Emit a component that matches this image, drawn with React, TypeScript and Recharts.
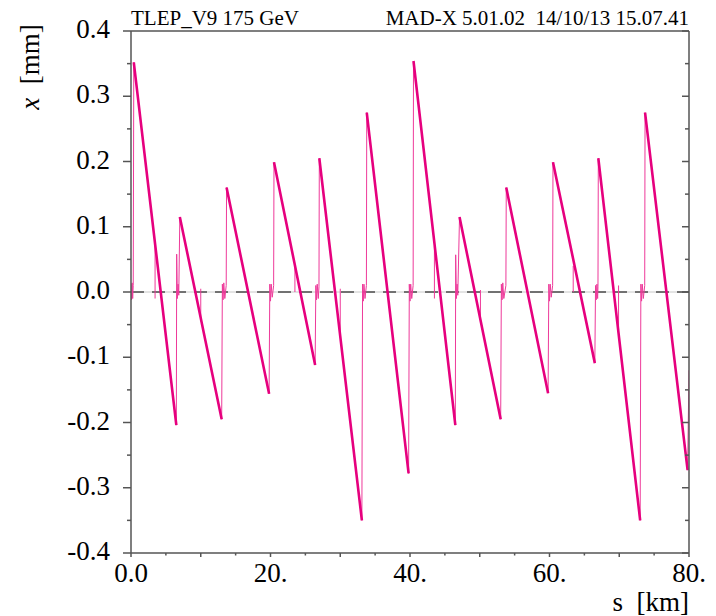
import React from "react";
import {
  LineChart,
  Line,
  XAxis,
  YAxis,
  ReferenceLine,
} from "recharts";

// closed orbit x [mm] along s [km]
const orbitS = [
  0, 0.08, 0.16, 0.24, 0.32, 0.4,
  6.5, 6.55, 6.65, 6.75, 6.85, 7.0,
  13.0, 13.1, 13.2, 13.3, 13.45, 13.65, 13.7,
  19.8, 19.9, 20.0, 20.1, 20.25, 20.45, 20.5,
  26.4, 26.5, 26.6, 26.7, 26.85, 26.95, 27.0,
  33.1, 33.2, 33.3, 33.4, 33.55, 33.75, 33.8,
  39.8, 39.9, 40.0, 40.1, 40.25, 40.45, 40.5,
  46.5, 46.55, 46.65, 46.75, 46.85, 47.1,
  53.0, 53.1, 53.2, 53.3, 53.45, 53.75, 53.8,
  59.8, 59.9, 60.0, 60.1, 60.25, 60.45, 60.5,
  66.5, 66.6, 66.7, 66.8, 66.9, 66.95, 67.0,
  73.0, 73.1, 73.2, 73.3, 73.45, 73.65, 73.7,
  79.8, 80.0,
];
const orbitX = [
  0.012, -0.012, 0.014, -0.01, 0.01, 0.352,
  -0.204, 0.058, -0.01, 0.012, -0.005, 0.115,
  -0.195, 0.012, -0.012, 0.014, -0.01, 0.01, 0.16,
  -0.156, 0.012, -0.014, 0.012, -0.008, 0.01, 0.199,
  -0.112, 0.01, -0.012, 0.012, -0.01, 0.008, 0.205,
  -0.35, 0.012, -0.014, 0.012, -0.01, 0.01, 0.275,
  -0.278, 0.012, -0.014, 0.012, -0.01, 0.01, 0.354,
  -0.204, 0.057, -0.01, 0.012, -0.005, 0.115,
  -0.195, 0.012, -0.012, 0.014, -0.01, 0.01, 0.16,
  -0.155, 0.012, -0.014, 0.012, -0.008, 0.01, 0.199,
  -0.109, 0.01, -0.012, 0.012, -0.01, 0.008, 0.205,
  -0.35, 0.012, -0.014, 0.012, -0.01, 0.01, 0.275,
  -0.273, -0.12,
];

// the long drifting ramps (drawn thicker)
const rampPeakS = [0.4, 7.0, 13.7, 20.5, 27.0, 33.8, 40.5, 47.1, 53.8, 60.5, 67.0, 73.7];
const rampPeakX = [0.352, 0.115, 0.16, 0.199, 0.205, 0.275, 0.354, 0.115, 0.16, 0.199, 0.205, 0.275];
const rampTroughS = [6.5, 13.0, 19.8, 26.4, 33.1, 39.8, 46.5, 53.0, 59.8, 66.5, 73.0, 79.8];
const rampTroughX = [-0.204, -0.195, -0.156, -0.112, -0.35, -0.278, -0.204, -0.195, -0.155, -0.109, -0.35, -0.273];

// short spikes sitting on the ramps
const spikeS = [3.45, 10.0, 23.5, 30.0, 43.5, 50.1, 63.4, 69.9];
const spikeTop = [0.072, 0.005, 0.041, 0.005, 0.07, 0.003, 0.04, 0.01];
const spikeBottom = [-0.01, -0.045, 0.0, -0.068, -0.01, -0.042, 0.0, -0.059];

const xTicks = [0, 5, 10, 15, 20, 25, 30, 35, 40, 45, 50, 55, 60, 65, 70, 75, 80];
const xTickLabels: Record<number, string> = { 0: "0.0", 20: "20.", 40: "40.", 60: "60.", 80: "80." };
const yTicks = [-0.4, -0.35, -0.3, -0.25, -0.2, -0.15, -0.1, -0.05, 0, 0.05, 0.1, 0.15, 0.2, 0.25, 0.3, 0.35, 0.4];
const yTickLabels = ["-0.4", "-0.3", "-0.2", "-0.1", "0.0", "0.1", "0.2", "0.3", "0.4"];

const titleLeft = "TLEP_V9 175 GeV";
const titleRight = "MAD-X 5.01.02  14/10/13 15.07.41";

const W = 716;
const H = 616;
const FONT = "Liberation Serif, Times New Roman, Times, serif";
const PINK = "#e6007e";
const THIN = "#ee3a9a";
const AXIS = "#555";

const orbitData = orbitS.map((s, i) => ({ s, x: orbitX[i] }));
const rampData = rampPeakS.flatMap((s, i) => [
  { s, x: rampPeakX[i] },
  { s: rampTroughS[i], x: rampTroughX[i] },
  { s: rampTroughS[i], x: null },
]);
const spikeData = spikeS.flatMap((s, i) => [
  { s, x: spikeTop[i] },
  { s, x: spikeBottom[i] },
  { s, x: null },
]);

const isMajorY = (v: number) => Math.abs(v * 10 - Math.round(v * 10)) < 1e-6;
const isMajorX = (v: number) => v % 10 === 0;

const txt = { fontFamily: FONT, whiteSpace: "pre" as const };

const LeftTick = (props: any) => {
  const { x, y, payload } = props;
  const v = payload.value;
  const major = isMajorY(v);
  const label = yTickLabels[Math.round((v + 0.4) * 10)];
  return (
    <g>
      <line x1={x} x2={x - (major ? 8 : 4)} y1={y} y2={y} stroke={AXIS} strokeWidth={1.5} />
      {major && (
        <text x={x - 21} y={y + 7} textAnchor="end" style={txt} fontSize={27} fill="#000">
          {label}
        </text>
      )}
    </g>
  );
};

const RightTick = (props: any) => {
  const { x, y, payload } = props;
  const major = isMajorY(payload.value);
  return <line x1={x} x2={x - (major ? 7 : 4)} y1={y} y2={y} stroke={AXIS} strokeWidth={1.5} />;
};

const BottomTick = (props: any) => {
  const { x, y, payload } = props;
  const v = payload.value;
  const label = xTickLabels[v];
  return (
    <g>
      <line x1={x} x2={x} y1={y} y2={y + (isMajorX(v) ? 4 : 2.5)} stroke={AXIS} strokeWidth={1.5} />
      {label && (
        <text x={x} y={y + 29} textAnchor="middle" style={txt} fontSize={27} fill="#000">
          {label}
        </text>
      )}
    </g>
  );
};

const TopTick = (props: any) => {
  const { x, y, payload } = props;
  return (
    <line x1={x} x2={x} y1={y} y2={y + (isMajorX(payload.value) ? 4 : 2.5)} stroke={AXIS} strokeWidth={1.5} />
  );
};

export default function App() {
  return (
    <div style={{ position: "absolute", left: 0, top: 0, width: W, height: H, background: "#fff" }}>
      <LineChart width={W} height={H} margin={{ top: 0, right: 0, bottom: 0, left: 0 }}>
        <XAxis
          dataKey="s"
          type="number"
          domain={[0, 80]}
          ticks={xTicks}
          interval={0}
          height={63}
          tickSize={0}
          tickMargin={0}
          tick={<BottomTick />}
          axisLine={{ stroke: AXIS, strokeWidth: 1.5 }}
          allowDataOverflow
        />
        <XAxis
          xAxisId="top"
          orientation="top"
          type="number"
          domain={[0, 80]}
          ticks={xTicks}
          interval={0}
          height={31}
          tickSize={0}
          tickMargin={0}
          tick={<TopTick />}
          axisLine={{ stroke: AXIS, strokeWidth: 1.5 }}
          allowDataOverflow
        />
        <YAxis
          type="number"
          domain={[-0.4, 0.4]}
          ticks={yTicks}
          interval={0}
          width={131}
          tickSize={0}
          tickMargin={0}
          tick={<LeftTick />}
          axisLine={{ stroke: AXIS, strokeWidth: 1.5 }}
          allowDataOverflow
        />
        <YAxis
          yAxisId="right"
          orientation="right"
          type="number"
          domain={[-0.4, 0.4]}
          ticks={yTicks}
          interval={0}
          width={27}
          tickSize={0}
          tickMargin={0}
          tick={<RightTick />}
          axisLine={{ stroke: AXIS, strokeWidth: 1.5 }}
          allowDataOverflow
        />
        <ReferenceLine y={0} stroke="#c8c8c8" strokeWidth={1} />
        <ReferenceLine y={0} stroke="#000" strokeWidth={1.2} strokeDasharray="13 8" />
        <Line
          data={orbitData}
          dataKey="x"
          type="linear"
          stroke={THIN}
          strokeWidth={1}
          dot={false}
          activeDot={false}
          isAnimationActive={false}
        />
        <Line
          data={spikeData}
          dataKey="x"
          type="linear"
          stroke={THIN}
          strokeWidth={1}
          dot={false}
          activeDot={false}
          connectNulls={false}
          isAnimationActive={false}
        />
        <Line
          data={rampData}
          dataKey="x"
          type="linear"
          stroke={PINK}
          strokeWidth={2.6}
          dot={false}
          activeDot={false}
          connectNulls={false}
          isAnimationActive={false}
        />
      </LineChart>
      <svg
        width={W}
        height={H}
        style={{ position: "absolute", left: 0, top: 0, pointerEvents: "none" }}
      >
        <text x={131} y={25} style={txt} fontSize={21} fill="#000">
          {titleLeft}
        </text>
        <text x={689} y={25} textAnchor="end" style={txt} fontSize={21} fill="#000">
          {titleRight}
        </text>
        <text
          x={39}
          y={67}
          textAnchor="middle"
          transform="rotate(-90, 39, 67)"
          style={txt}
          fontSize={27}
          fill="#000"
        >
          <tspan fontStyle="italic">x</tspan>
          {"  [mm]"}
        </text>
        <text x={689} y={611} textAnchor="end" style={txt} fontSize={27} fill="#000">
          {"s  [km]"}
        </text>
      </svg>
    </div>
  );
}
